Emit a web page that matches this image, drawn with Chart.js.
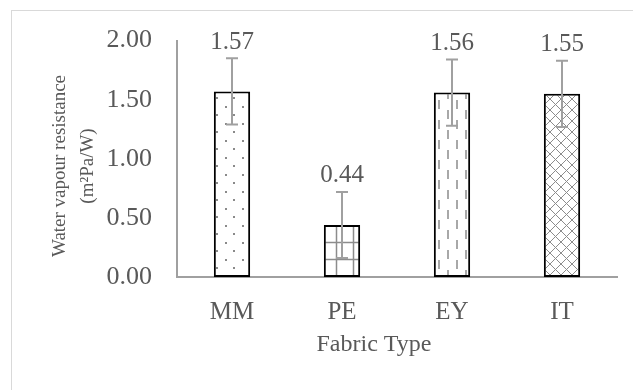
<!DOCTYPE html>
<html>
<head>
<meta charset="utf-8">
<script src="https://cdn.jsdelivr.net/npm/chart.js@4.4.1/dist/chart.umd.min.js"></script>
<style>
  body { margin: 0; background: #fff; }
  #wrap { position: relative; width: 633px; height: 390px; overflow: hidden; }
  #frame { position: absolute; left: 11px; top: 10px; width: 640px; height: 400px; border: 1.5px solid #d9d9d9; }
  #chart { position: absolute; left: 0; top: 0; }
</style>
</head>
<body>
<div id="wrap">
  <div id="frame"></div>
  <canvas id="chart" width="633" height="390"></canvas>
</div>
<script>
  // Chart data
  const fabrics = ["MM", "PE", "EY", "IT"];
  const resistance = [1.57, 0.44, 1.56, 1.55];
  const errors = [0.28, 0.28, 0.28, 0.28];
  const patternKinds = ["dots", "grid", "dashes", "cross"];
  const xTitle = "Fabric Type";
  const yTitle = ["Water vapour resistance", "(m\u00B2Pa/W)"];

  const textColor = "#595959";
  const fontFamily = "'Liberation Serif', 'Times New Roman', serif";

  // Excel-like fill patterns (FUNCTION)
  function makePattern(kind) {
    const c = document.createElement("canvas");
    const ctx = c.getContext("2d");
    if (kind === "dots") {
      c.width = 17; c.height = 17;
      ctx.fillStyle = "#fff"; ctx.fillRect(0, 0, 17, 17);
      ctx.fillStyle = "#8a8a8a";
      ctx.fillRect(4, 4, 2, 2);
      ctx.fillRect(12, 12, 2, 2);
    } else if (kind === "grid") {
      c.width = 17; c.height = 17;
      ctx.fillStyle = "#fff"; ctx.fillRect(0, 0, 17, 17);
      ctx.strokeStyle = "#8c8c8c"; ctx.lineWidth = 1.5;
      ctx.beginPath();
      ctx.moveTo(13.5, 0); ctx.lineTo(13.5, 17);
      ctx.moveTo(0, 4.5); ctx.lineTo(17, 4.5);
      ctx.stroke();
    } else if (kind === "dashes") {
      c.width = 18; c.height = 20;
      ctx.fillStyle = "#fff"; ctx.fillRect(0, 0, 18, 20);
      ctx.strokeStyle = "#8c8c8c"; ctx.lineWidth = 1.5;
      ctx.beginPath();
      ctx.moveTo(7, 0); ctx.lineTo(7, 9);
      ctx.moveTo(16, 10); ctx.lineTo(16, 19);
      ctx.stroke();
    } else {
      c.width = 11; c.height = 11;
      ctx.fillStyle = "#fff"; ctx.fillRect(0, 0, 11, 11);
      ctx.strokeStyle = "#8c8c8c"; ctx.lineWidth = 1;
      ctx.beginPath();
      ctx.moveTo(-1, -1); ctx.lineTo(12, 12);
      ctx.moveTo(12, -1); ctx.lineTo(-1, 12);
      ctx.stroke();
    }
    return ctx.createPattern(c, "repeat");
  }

  // Error bars, value labels and axis titles
  const extras = {
    id: "extras",
    afterDatasetsDraw(chart) {
      const ctx = chart.ctx;
      const y = chart.scales.y;
      const meta = chart.getDatasetMeta(0);
      ctx.save();
      meta.data.forEach((bar, i) => {
        const top = y.getPixelForValue(resistance[i] + errors[i]);
        const bot = y.getPixelForValue(resistance[i] - errors[i]);
        ctx.strokeStyle = "#a0a0a0";
        ctx.lineWidth = 2;
        ctx.beginPath();
        ctx.moveTo(bar.x, top); ctx.lineTo(bar.x, bot);
        ctx.moveTo(bar.x - 6, top); ctx.lineTo(bar.x + 6, top);
        ctx.moveTo(bar.x - 6, bot); ctx.lineTo(bar.x + 6, bot);
        ctx.stroke();

        ctx.fillStyle = textColor;
        ctx.font = "25px " + fontFamily;
        ctx.textAlign = "center";
        ctx.textBaseline = "middle";
        ctx.fillText(resistance[i].toFixed(2), bar.x, top - 16);
      });

      // axis titles
      ctx.fillStyle = textColor;
      ctx.textAlign = "center";
      ctx.textBaseline = "middle";
      ctx.font = "24px " + fontFamily;
      ctx.fillText(xTitle, 374, 345);

      ctx.font = "19px " + fontFamily;
      ctx.translate(60, 166);
      ctx.rotate(-Math.PI / 2);
      yTitle.forEach((line, k) => ctx.fillText(line, 0, k * 28));
      ctx.restore();
    }
  };

  const ctx = document.getElementById("chart").getContext("2d");
  const chart = new Chart(ctx, {
    type: "bar",
    data: {
      labels: fabrics,
      datasets: [{
        data: resistance,
        backgroundColor: patternKinds.map(makePattern),
        borderColor: "#000",
        borderWidth: 2,
        borderSkipped: false,
        categoryPercentage: 1,
        barPercentage: 0.33
      }]
    },
    options: {
      responsive: false,
      animation: false,
      devicePixelRatio: 1,
      layout: { padding: { left: 0, top: 39, right: 16, bottom: 0 } },
      plugins: {
        legend: { display: false },
        tooltip: { enabled: false }
      },
      scales: {
        x: {
          grid: { display: false, drawTicks: false },
          border: { color: "#a0a0a0", width: 2 },
          ticks: { color: textColor, font: { family: fontFamily, size: 25, lineHeight: 1.2 }, padding: 20 },
          afterFit: s => { s.height = 113; }
        },
        y: {
          min: 0,
          max: 2,
          grid: { display: false, drawTicks: false },
          border: { color: "#a0a0a0", width: 2 },
          ticks: {
            stepSize: 0.5,
            color: textColor,
            font: { family: fontFamily, size: 26 },
            padding: 25,
            callback: v => v.toFixed(2)
          },
          afterFit: s => { s.width = 177; }
        }
      }
    },
    plugins: [extras]
  });
</script>
</body>
</html>
